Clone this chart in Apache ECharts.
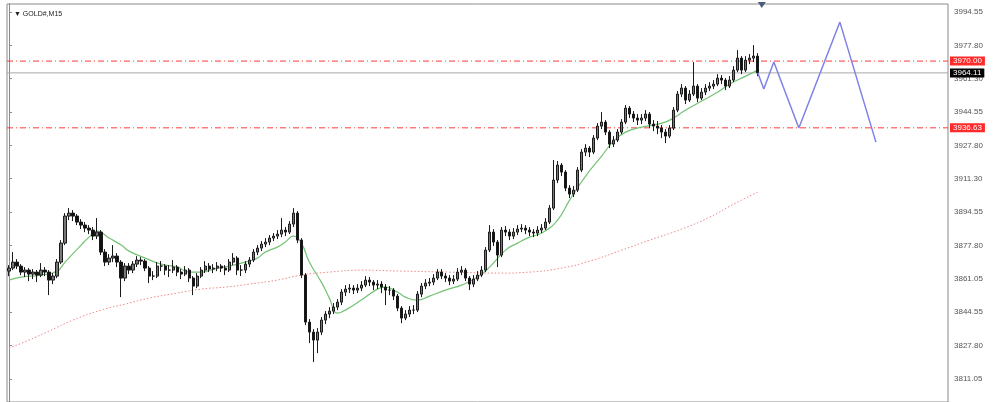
<!DOCTYPE html>
<html>
<head>
<meta charset="utf-8">
<script src="https://cdn.jsdelivr.net/npm/echarts@6/dist/echarts.min.js"></script>
<style>
html,body{margin:0;padding:0;background:#fff;}
#chart{width:1000px;height:402px;}
</style>
</head>
<body>
<div id="chart"></div>
<script>
// ---- data ----
const symbolTitle = 'GOLD#,M15';
const yTicks = [3994.55, 3977.80, 3961.30, 3944.55, 3927.80, 3911.30, 3894.55, 3877.80, 3861.05, 3844.55, 3827.80, 3811.05];
const yMin = 3799.55;
const yMax = 3998.55;
const totalSlots = 235; // candle slots incl. empty right margin

// candles: [open, close, low, high]
const candles = [
[3865,3866.5,3862.5,3868],[3866.5,3869.5,3865.5,3874.5],[3869.5,3867.5,3866,3871],[3867.5,3864.5,3863,3868.5],
[3864.5,3865.5,3862,3867],[3865.5,3863.5,3860,3866.5],[3863.5,3864.5,3861,3866],[3864.5,3863,3859.5,3865.5],
[3863,3865.5,3862,3869],[3865.5,3864.5,3862.5,3867],[3864.5,3860.5,3853,3865.5],[3860.5,3862.5,3858.5,3864],
[3862.5,3869.5,3861.5,3871],[3869.5,3879,3868.5,3880.5],[3879,3892.5,3878,3894],[3892.5,3894,3890.5,3896.5],
[3894,3892.5,3890,3895.5],[3892.5,3889.5,3888,3893.5],[3889.5,3888,3886,3891],[3888,3886.5,3884.5,3889.5],
[3886.5,3885.5,3883.5,3888],[3885.5,3882.5,3880.5,3887],[3882.5,3884.5,3881,3891.5],[3884.5,3874.5,3873,3885.5],
[3874.5,3869.5,3867.5,3876],[3869.5,3871.5,3868,3873.5],[3871.5,3872.5,3869.5,3878],[3872.5,3869.5,3867,3874],
[3869.5,3861.5,3852,3870.5],[3861.5,3867.5,3860,3869],[3867.5,3865.5,3863.5,3869],[3865.5,3868.5,3864,3870],
[3868.5,3870.5,3867,3872.5],[3870.5,3870,3868,3872],[3870,3866.5,3865,3871],[3866.5,3862.5,3859,3867.5],
[3862.5,3862.5,3860.5,3865],[3862.5,3867.5,3861.5,3869.5],[3867.5,3867.5,3865,3870],[3867.5,3865.5,3863,3868.5],
[3865.5,3865.5,3862,3868],[3865.5,3867,3864,3870.5],[3867,3864.5,3862.5,3868],[3864.5,3863.5,3861,3866],
[3863.5,3865.5,3862.5,3867.5],[3865.5,3861.5,3859.5,3866.5],[3861.5,3857.5,3853,3862.5],[3857.5,3862.5,3856.5,3864],
[3862.5,3865.5,3861.5,3867],[3865.5,3867.5,3864,3870],[3867.5,3866,3864.5,3869],[3866,3866.5,3864,3868.5],
[3866.5,3867.5,3865,3869.5],[3867.5,3866.5,3864.5,3868.5],[3866.5,3865.5,3863,3868],[3865.5,3869.5,3864.5,3871],
[3869.5,3871.5,3868,3874],[3871.5,3865.5,3863,3872.5],[3865.5,3865.5,3862.5,3868],[3865.5,3868.5,3864,3870],
[3868.5,3870.5,3867,3872],[3870.5,3874.5,3869.5,3876],[3874.5,3876.5,3873,3878],[3876.5,3878.5,3875,3880],
[3878.5,3879.5,3877,3881.5],[3879.5,3881.5,3878,3883],[3881.5,3882.5,3880,3884],[3882.5,3883.5,3881,3885.5],
[3883.5,3885.5,3882,3891.5],[3885.5,3884.5,3882.5,3887],[3884.5,3888.5,3883.5,3890],[3888.5,3894,3887,3896.5],
[3894,3880.5,3879,3895],[3880.5,3863,3861.5,3881.5],[3863,3839.5,3838,3864],[3839.5,3834.5,3829,3841],
[3834.5,3830.5,3819.5,3836],[3830.5,3834.5,3824,3836.5],[3834.5,3840.5,3833,3842],[3840.5,3843.5,3838.5,3845],
[3843.5,3845,3841.5,3847],[3845,3847,3843.5,3849],[3847,3849.5,3845.5,3851],[3849.5,3854.5,3848,3856],
[3854.5,3856,3852.5,3858],[3856,3856.5,3854,3858.5],[3856.5,3855.5,3853.5,3858],[3855.5,3856.5,3854,3858.5],
[3856.5,3858,3855,3860],[3858,3860.5,3857,3862.5],[3860.5,3859.5,3857.5,3862],[3859.5,3858,3855.5,3860.5],
[3858,3858.5,3856,3860.5],[3858.5,3857,3854,3860],[3857,3855.5,3848,3858.5],[3855.5,3855.5,3853,3857.5],
[3855.5,3852.5,3850.5,3856.5],[3852.5,3846.5,3845,3853.5],[3846.5,3841.5,3839,3847.5],[3841.5,3843.5,3840.5,3845.5],
[3843.5,3845.5,3842,3847.5],[3845.5,3845.5,3843.5,3848],[3845.5,3853.5,3844.5,3855],[3853.5,3857.5,3852,3859],
[3857.5,3859,3856,3861],[3859,3859.5,3857.5,3861.5],[3859.5,3861.5,3858,3863.5],[3861.5,3864.5,3860.5,3866],
[3864.5,3862.5,3861,3866],[3862.5,3861.5,3859.5,3864],[3861.5,3860,3858,3863],[3860,3861,3858.5,3863],
[3861,3864.5,3860,3866.5],[3864.5,3865.5,3863,3867.5],[3865.5,3861.5,3860,3866.5],[3861.5,3858.5,3855.5,3862.5],
[3858.5,3861,3857,3863],[3861,3863,3860,3865],[3863,3865.5,3862,3867.5],[3865.5,3875.5,3864.5,3877],
[3875.5,3884.5,3874.5,3888],[3884.5,3879.5,3877.5,3886],[3879.5,3873,3867,3880.5],[3873,3885.5,3872,3887],
[3885.5,3884.5,3882.5,3887.5],[3884.5,3882.5,3880.5,3886],[3882.5,3884.5,3881,3886.5],[3884.5,3886,3883,3888],
[3886,3886.5,3884.5,3888.5],[3886.5,3885.5,3883.5,3888],[3885.5,3884.5,3882.5,3887],[3884.5,3884,3882,3886],
[3884,3885.5,3882.5,3887.5],[3885.5,3886.5,3884,3888.5],[3886.5,3889.5,3885.5,3891.5],[3889.5,3896.5,3888.5,3898],
[3896.5,3910.5,3895.5,3920.5],[3910.5,3918,3909,3920],[3918,3914.5,3912.5,3919],[3914.5,3906.5,3905,3915.5],
[3906.5,3903.5,3901.5,3908],[3903.5,3905.5,3902,3907.5],[3905.5,3915.5,3904.5,3917],[3915.5,3924.5,3914.5,3926],
[3924.5,3926.5,3922.5,3928.5],[3926.5,3924.5,3922,3927.5],[3924.5,3931.5,3923.5,3933],[3931.5,3937.5,3930.5,3939],
[3937.5,3939.5,3936,3944.5],[3939.5,3934.5,3933,3940.5],[3934.5,3928.5,3926.5,3935.5],[3928.5,3930.5,3927,3932.5],
[3930.5,3934.5,3929.5,3936],[3934.5,3939.5,3933.5,3941],[3939.5,3946.5,3938.5,3948],[3946.5,3943.5,3941.5,3947.5],
[3943.5,3941.5,3939.5,3945],[3941.5,3940.5,3938,3943.5],[3940.5,3941.5,3938.5,3943.5],[3941.5,3943.5,3940,3945.5],
[3943.5,3938.5,3936.5,3944.5],[3938.5,3937.5,3935,3940.5],[3937.5,3936.5,3933.5,3940],[3936.5,3934.5,3931.5,3938],
[3934.5,3932.5,3929,3936],[3932.5,3936.5,3931.5,3938],[3936.5,3945.5,3935.5,3947],[3945.5,3953.5,3944.5,3955],
[3953.5,3956.5,3952,3958.5],[3956.5,3950.5,3948.5,3957.5],[3950.5,3953.5,3949.5,3955.5],[3953.5,3957.5,3952.5,3969.5],
[3957.5,3951.5,3949.5,3958.5],[3951.5,3954.5,3950.5,3956.5],[3954.5,3956.5,3953,3958.5],[3956.5,3957.5,3955,3959.5],
[3957.5,3958.5,3956,3960.5],[3958.5,3961.5,3957.5,3963.5],[3961.5,3960.5,3958.5,3963],[3960.5,3957.5,3955.5,3961.5],
[3957.5,3960.5,3956.5,3962.5],[3960.5,3965.5,3959.5,3967.5],[3965.5,3971.5,3964.5,3975.5],[3971.5,3965.5,3963.5,3972.5],
[3965.5,3970.5,3964.5,3972.5],[3970.5,3971.5,3968.5,3973.5],[3971.5,3972.5,3969.5,3978],[3972.5,3964.11,3962.5,3974]
];

// fast moving average (green), read as [candle index, price]
const maFast = [
[0,3860.5],[3,3862],[8,3863],[12,3865],[14,3869.5],[18,3878],[20,3882],[22,3885],[25,3881.5],[28,3878],
[30,3875],[34,3871.5],[38,3868.5],[42,3867],[45,3864.5],[48,3864.5],[52,3866.5],[55,3867.5],[59,3869.5],
[62,3871.5],[64,3874.5],[67,3877],[69,3879.5],[71,3882.5],[73,3879],[75,3869.5],[78,3859.5],[80,3851.5],
[82,3844],[84,3845.5],[88,3850.5],[92,3856],[94,3857],[97,3854.5],[99,3852],[102,3850.5],[105,3852.5],
[109,3855.5],[113,3858],[117,3862],[120,3867],[124,3875.5],[127,3879],[130,3882],[133,3884],[137,3890.5],
[140,3900.5],[144,3912.5],[148,3922.5],[151,3930],[154,3934.5],[158,3937],[162,3938.5],[165,3940.5],
[169,3945.5],[173,3950],[177,3954.5],[180,3958.5],[184,3962.5],[187,3965.5]
];

// slow moving average (red dotted)
const maSlow = [
[0,3826.5],[5,3830.5],[10,3835],[16,3840.5],[23,3845.5],[29,3848.5],[35,3851.5],[42,3854],[48,3856],
[54,3857],[60,3858.5],[67,3860.5],[73,3863],[80,3864.5],[88,3865.5],[98,3865],[110,3864.5],[123,3864],
[130,3864.5],[138,3866.5],[145,3870],[153,3875.5],[160,3880.5],[168,3886],[175,3892],[181,3898.5],[187,3904.5]
];

// projected zigzag path (blue)
const projection = [[187,3964.11],[188.5,3956],[191,3969.5],[197.25,3936.6],[207.5,3989.5],[216.5,3929.5]];

// horizontal levels
const resistanceLevel = 3970.00;
const supportLevel = 3936.63;
const bidPrice = 3964.11;

// ---- chart ----
const categories = Array.from({length: totalSlots}, (_, i) => String(i));
const chart = echarts.init(document.getElementById('chart'), null, {renderer: 'canvas'});
const FONT = '"Liberation Sans", Arial, sans-serif';
const dashDot = [6, 3, 1, 3];
const xLo = -0.5, xHi = totalSlots - 0.5;

function levelSeries(name, value, lineColor, lineType, labelBg, z) {
  return {
    name: name, type: 'line', xAxisIndex: 1, z: z,
    data: [[xLo, value], [xHi, value]],
    showSymbol: false, symbol: 'none', clip: false, silent: true,
    color: lineColor,
    lineStyle: {color: lineColor, width: 1, type: lineType},
    endLabel: {
      show: true, distance: 2,
      formatter: p => Number(p.value[1]).toFixed(2),
      color: '#fff', backgroundColor: labelBg, padding: [1, 3, 0, 3],
      fontSize: 8, fontFamily: FONT
    }
  };
}

chart.setOption({
  animation: false,
  backgroundColor: '#ffffff',
  title: {
    text: '\u25BC ' + symbolTitle,
    left: 9, top: 6,
    textStyle: {fontSize: 7, fontWeight: 'normal', color: '#222', fontFamily: FONT}
  },
  grid: {left: 7, right: 52, top: 4, bottom: 0, show: true, borderColor: '#8a8a8a', borderWidth: 1, backgroundColor: 'transparent'},
  xAxis: [
    {type: 'category', data: categories, boundaryGap: true, show: false},
    {type: 'value', min: xLo, max: xHi, show: false}
  ],
  yAxis: {
    type: 'value', position: 'right', min: yMin, max: yMax, scale: true,
    axisLine: {show: true, lineStyle: {color: '#8a8a8a', width: 1}},
    axisTick: {show: true, length: 3, customValues: yTicks, lineStyle: {color: '#8a8a8a'}},
    axisLabel: {
      show: true, customValues: yTicks, margin: 6,
      formatter: v => Number(v).toFixed(2),
      fontSize: 8, color: '#555', fontFamily: FONT
    },
    splitLine: {show: false}
  },
  series: [
    levelSeries('bid', bidPrice, '#a8a8a8', 'solid', '#000000', 1),
    levelSeries('resistance', resistanceLevel, '#ff3b3b', dashDot, '#ff2a2a', 1),
    levelSeries('support', supportLevel, '#ff3b3b', dashDot, '#ff2a2a', 1),
    {
      name: 'slowMA', type: 'line', xAxisIndex: 1, data: maSlow, smooth: true,
      showSymbol: false, lineStyle: {color: '#f08a8a', width: 1, type: [1.5, 2]}, z: 2
    },
    {
      name: 'fastMA', type: 'line', xAxisIndex: 1, data: maFast, smooth: true,
      showSymbol: false, lineStyle: {color: '#74c274', width: 1.2}, z: 3
    },
    {
      name: 'price', type: 'candlestick', xAxisIndex: 0, data: candles, barWidth: 2.8,
      itemStyle: {color: '#777777', color0: '#111111', borderColor: '#1a1a1a', borderColor0: '#1a1a1a', borderWidth: 1},
      z: 4
    },
    {
      name: 'projection', type: 'line', xAxisIndex: 1, data: projection,
      showSymbol: false, lineStyle: {color: '#7f82e6', width: 1.5}, z: 5,
      markPoint: {
        silent: true,
        data: [{coord: [188, yMax], symbol: 'triangle', symbolSize: [8, 6], symbolRotate: 180, symbolOffset: [0, 1],
                itemStyle: {color: '#4d5c7a'}, label: {show: false}}]
      }
    }
  ]
});
</script>
</body>
</html>
